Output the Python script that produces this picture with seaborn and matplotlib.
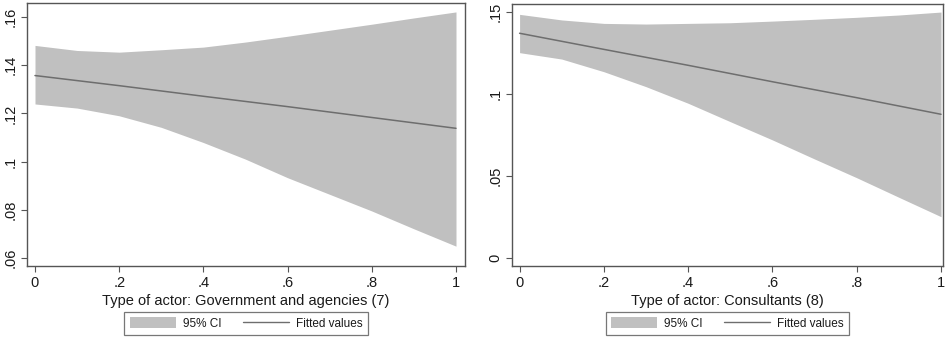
import matplotlib
matplotlib.use("Agg")
import matplotlib.pyplot as plt
import seaborn as sns
import pandas as pd
from matplotlib.patches import Patch
from matplotlib.lines import Line2D

sns.set_theme(style="white")
plt.rcParams["font.family"] = ["Liberation Sans", "DejaVu Sans"]

# Predicted share with 95% confidence band, by actor type
band_x = [0.0, 0.1, 0.2, 0.3, 0.4, 0.5, 0.6, 0.7, 0.8, 0.9, 1.0]
fit_x = [0.0, 0.2, 0.4, 0.6, 0.8, 1.0]

gov_upper = [0.1482, 0.1461, 0.1454, 0.1464, 0.1475, 0.1496, 0.1520, 0.1545, 0.1570, 0.1596, 0.1621]
gov_lower = [0.1239, 0.1222, 0.1190, 0.1142, 0.1079, 0.1010, 0.0933, 0.0864, 0.0795, 0.0721, 0.0649]
gov_fit = [0.1357, 0.1315, 0.1271, 0.1228, 0.1183, 0.1138]

con_upper = [0.1484, 0.1450, 0.1429, 0.1425, 0.1429, 0.1433, 0.1443, 0.1454, 0.1466, 0.1480, 0.1498]
con_lower = [0.1251, 0.1212, 0.1135, 0.1044, 0.0943, 0.0831, 0.0720, 0.0604, 0.0490, 0.0371, 0.0253]
con_fit = [0.1369, 0.1271, 0.1174, 0.1074, 0.0977, 0.0876]

x_ticks = [0, 0.2, 0.4, 0.6, 0.8, 1.0]
x_ticklabels = ["0", ".2", ".4", ".6", ".8", "1"]
gov_yticks = [0.06, 0.08, 0.10, 0.12, 0.14, 0.16]
gov_yticklabels = [".06", ".08", ".1", ".12", ".14", ".16"]
con_yticks = [0.0, 0.05, 0.10, 0.15]
con_yticklabels = ["0", ".05", ".1", ".15"]

titles = ["Type of actor: Government and agencies (7)", "Type of actor: Consultants (8)"]

FILL = "#c0c0c0"
LINE = "#6e6e6e"
FRAME = "#555555"
TEXT = "#1a1a1a"

fig = plt.figure(figsize=(9.46, 3.4), dpi=100)
ax1 = fig.add_axes([27 / 946, 74 / 340, 438 / 946, 263 / 340])
ax2 = fig.add_axes([512 / 946, 74 / 340, 431 / 946, 262 / 340])

panels = [
    (ax1, gov_upper, gov_lower, gov_fit, gov_yticks, gov_yticklabels, (-0.019, 1.0214), (0.05667, 0.1658), titles[0]),
    (ax2, con_upper, con_lower, con_fit, con_yticks, con_yticklabels, (-0.018, 1.0047), (-0.0047, 0.1547), titles[1]),
]

for ax, up, lo, fit, yt, ytl, xl, yl, title in panels:
    ax.fill_between(band_x, lo, up, color=FILL, linewidth=0)
    df = pd.DataFrame({"x": fit_x, "y": fit})
    sns.lineplot(data=df, x="x", y="y", ax=ax, color=LINE, linewidth=1.1)
    ax.set_xlim(*xl)
    ax.set_ylim(*yl)
    ax.set_xticks(x_ticks)
    ax.set_xticklabels(x_ticklabels)
    ax.set_yticks(yt)
    ax.set_yticklabels(ytl, rotation=90, va="center")
    ax.set_ylabel("")
    ax.set_xlabel(title, fontsize=10.5, color=TEXT, labelpad=3)
    ax.tick_params(axis="both", direction="out", length=4, width=0.8, color=FRAME,
                   labelsize=10.5, labelcolor=TEXT, pad=3, bottom=True, left=True)
    for s in ax.spines.values():
        s.set_visible(True)
        s.set_color(FRAME)
        s.set_linewidth(1.0)
    ax.set_facecolor("white")

    handles = [Patch(facecolor=FILL, edgecolor="none", label="95% CI"),
               Line2D([0], [0], color=LINE, linewidth=1.0, label="Fitted values")]
    pos = ax.get_position()
    leg = ax.legend(handles=handles, loc="upper center", ncol=2,
                    bbox_to_anchor=(pos.x0 + pos.width / 2, 28 / 340),
                    bbox_transform=fig.transFigure, fontsize=8.5, frameon=True,
                    fancybox=False, handlelength=3.9, handleheight=1.0,
                    columnspacing=1.8, handletextpad=0.6, borderpad=0.45,
                    borderaxespad=0)
    leg.get_frame().set_edgecolor(FRAME)
    leg.get_frame().set_linewidth(0.9)
    for t in leg.get_texts():
        t.set_color(TEXT)

fig.savefig("out.png", dpi=100, facecolor="white")
